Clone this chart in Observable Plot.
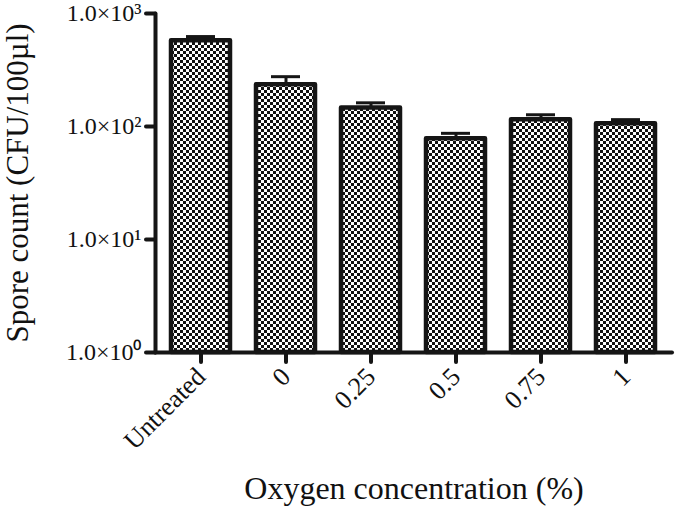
<!DOCTYPE html>
<html>
<head>
<meta charset="utf-8">
<script src="https://cdn.jsdelivr.net/npm/d3@7"></script>
<script src="https://cdn.jsdelivr.net/npm/@observablehq/plot@0.6"></script>
<style>
  html, body { margin: 0; padding: 0; background: #fff; }
  #chart svg { font-family: "Liberation Serif", "Times New Roman", serif; color: #111; }
</style>
</head>
<body>
<div id="chart"></div>
<script>
// ---- data ----
const categories = ["Untreated", "0", "0.25", "0.5", "0.75", "1"];
const means = [575, 234, 146, 78, 115, 106];
const upperErr = [625, 276, 162, 87, 127, 115];
const yTicks = [1, 10, 100, 1000];
const yTickLabels = ["1.0×10⁰", "1.0×10¹", "1.0×10²", "1.0×10³"];
const xTitle = "Oxygen concentration (%)";
const yTitle = "Spore count (CFU/100µl)";

const data = categories.map((c, i) => ({cat: c, value: means[i], upper: upperErr[i]}));
const ink = "#151515";

const plot = Plot.plot({
  width: 675,
  height: 508,
  marginLeft: 155,
  marginRight: 3,
  marginTop: 13,
  marginBottom: 156,
  style: {fontFamily: "Liberation Serif", fontSize: "24px", background: "white"},
  x: {domain: categories, paddingInner: 0.3, paddingOuter: 0.18},
  y: {type: "log", domain: [1, 1000]},
  marks: [
    Plot.ruleX(data, {x: "cat", y1: "value", y2: "upper", stroke: ink, strokeWidth: 3}),
    Plot.tickY(data, {x: "cat", y: "upper", stroke: ink, strokeWidth: 3, insetLeft: 15, insetRight: 15}),
    Plot.barY(data, {x: "cat", y1: 1, y2: "value", fill: "white", stroke: ink, strokeWidth: 4.5, strokeLinejoin: "round"}),
    Plot.frame({anchor: "left", stroke: ink, strokeWidth: 4, strokeLinecap: "round"}),
    Plot.ruleY([1], {stroke: ink, strokeWidth: 4, strokeLinecap: "round"}),
    Plot.axisY({ticks: yTicks, tickFormat: (d) => yTickLabels[yTicks.indexOf(d)], tickSize: 9, tickPadding: 5,
      stroke: ink, strokeWidth: 4, strokeLinecap: "round", fontSize: 24, label: null}),
    Plot.axisY({ticks: [], tickSize: 0, label: yTitle, labelAnchor: "center", labelOffset: 150, labelArrow: false, fontSize: 31}),
    Plot.axisX({tickRotate: -45, tickSize: 10, tickPadding: 10, stroke: ink, strokeWidth: 4, strokeLinecap: "round",
      fontSize: 26, label: null}),
    Plot.axisX({ticks: [], tickSize: 0, label: xTitle, labelAnchor: "center", labelOffset: 146, labelArrow: false, fontSize: 32})
  ]
});

// checkerboard pattern fill for bars
const svg = d3.select(plot);
const defs = svg.insert("defs", ":first-child");
const pat = defs.append("pattern").attr("id", "checker").attr("patternUnits", "userSpaceOnUse")
  .attr("width", 6).attr("height", 6);
pat.append("rect").attr("width", 6).attr("height", 6).attr("fill", "white");
pat.append("rect").attr("width", 3).attr("height", 3).attr("fill", "#111");
pat.append("rect").attr("x", 3).attr("y", 3).attr("width", 3).attr("height", 3).attr("fill", "#111");
svg.selectAll('g[aria-label="bar"]').attr("fill", "url(#checker)");
svg.selectAll('g[aria-label="bar"] rect').attr("fill", null);

document.getElementById("chart").appendChild(plot);
</script>
</body>
</html>
